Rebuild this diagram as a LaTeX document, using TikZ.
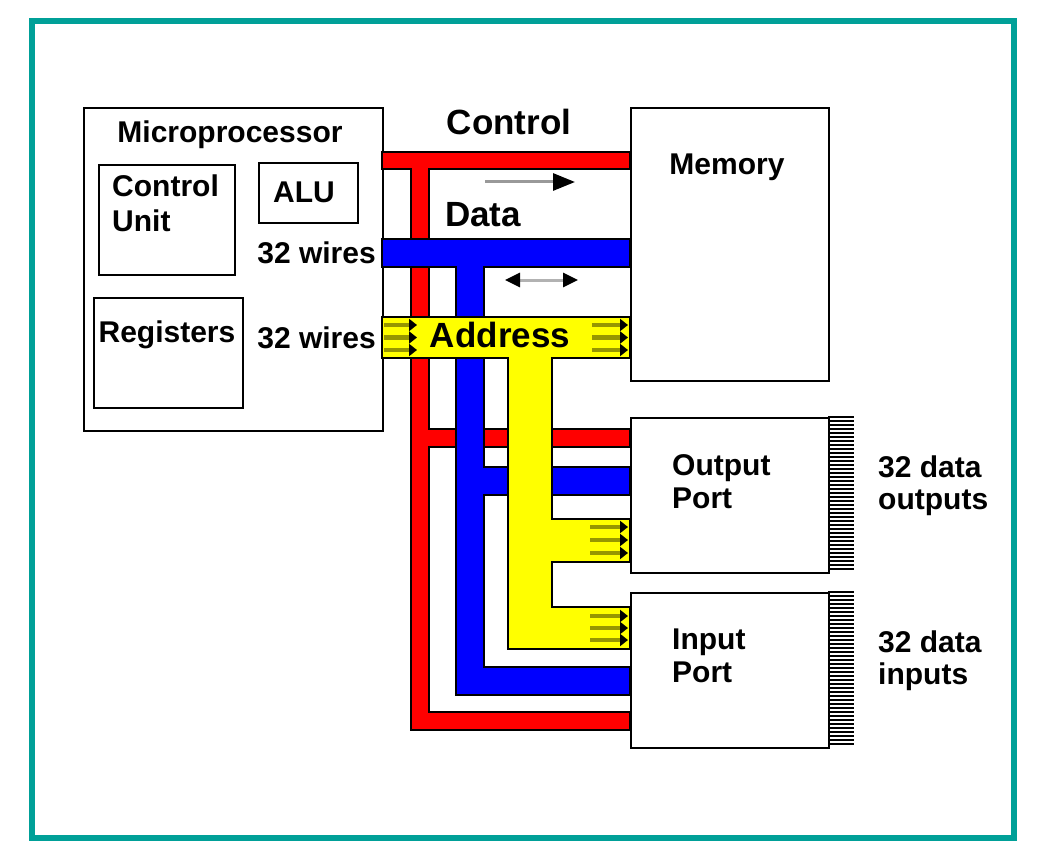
\documentclass[tikz,border=0pt]{standalone}
\usepackage{fontspec}
\setmainfont{Liberation Sans}
\usetikzlibrary{arrows.meta}
\definecolor{frameteal}{RGB}{0,160,152}
\definecolor{ctrlred}{RGB}{255,0,0}
\definecolor{datablue}{RGB}{0,0,255}
\definecolor{addryellow}{RGB}{255,255,0}
\definecolor{addrolive}{RGB}{150,150,0}
\tikzset{
    x=1pt, y=-1pt, % pixel-like units, y going down
    box/.style={draw, line width=2pt, fill=white, inner sep=0pt, anchor=north west}, % the unit boxes
    lbl/.style={font=\bfseries\fontsize{30}{33}\selectfont, inner sep=0pt}, % ordinary text
    buslbl/.style={font=\bfseries\fontsize{35}{40}\selectfont, inner sep=0pt}, % bus names
    bus/.style={draw=black, line width=2pt}, % outline of a bus bar
    addrarrow/.style={addrolive, line width=4.5pt, -{Triangle[color=black, length=8pt, width=12pt]}}, % marks on the address bus
    hatch/.style={line width=1.8pt}, % pins on the ports
}

\begin{document}
\begin{tikzpicture}
        \useasboundingbox (0,0) rectangle (1059,850);
        \draw[frameteal, line width=5.5pt] (32,21) rectangle (1014,838);

        % boxes here
        \node[box, minimum width=299pt, minimum height=323pt] (MP) at (83,107) {};
        \node[box, minimum width=136pt, minimum height=110pt] (CU) at (98,164) {};
        \node[box, minimum width=99pt, minimum height=60pt] (ALU) at (258,162) {};
        \node[box, minimum width=149pt, minimum height=110pt] (REG) at (93,297) {};
        \node[box, minimum width=198pt, minimum height=273pt] (MEM) at (630,107) {};
        \node[box, minimum width=198pt, minimum height=155pt] (OUT) at (630,417) {};
        \node[box, minimum width=198pt, minimum height=155pt] (IN) at (630,592) {};

        % box texts
        \node[lbl, anchor=base] (mp_txt) at (230,143) {Microprocessor};
        \node[lbl, anchor=north west, align=left] (cu_txt) at (112,175) {Control\\[2pt]Unit};
        \node[lbl, anchor=base] (alu_txt) at (304,203) {ALU};
        \node[lbl, anchor=base] (reg_txt) at (167,342) {Registers};
        \node[lbl, anchor=base east] (wires1) at (376,263) {32 wires};
        \node[lbl, anchor=base east] (wires2) at (376,348) {32 wires};
        \node[lbl, anchor=base] (mem_txt) at (727,175) {Memory};
        \node[lbl, anchor=north west, align=left] (out_txt) at (672,454) {Output\\Port};
        \node[lbl, anchor=north west, align=left] (in_txt) at (672,629) {Input\\Port};
        \node[lbl, anchor=north west, align=left] (outs) at (878,456) {32 data\\[-1pt]outputs};
        \node[lbl, anchor=north west, align=left] (ins) at (878,631) {32 data\\[-1pt]inputs};

        % buses: control, data, address
        \draw[bus, fill=ctrlred] (382,152) -- (630,152) -- (630,169) -- (429,169) -- (429,429) -- (630,429)
              -- (630,447) -- (429,447) -- (429,712) -- (630,712) -- (630,730) -- (411,730) -- (411,169)
              -- (382,169) -- cycle;
        \draw[bus, fill=datablue] (382,239) -- (630,239) -- (630,267) -- (484,267) -- (484,467) -- (630,467)
              -- (630,495) -- (484,495) -- (484,667) -- (630,667) -- (630,695) -- (456,695) -- (456,267)
              -- (382,267) -- cycle;
        \draw[bus, fill=addryellow] (382,317) -- (630,317) -- (630,358) -- (552,358) -- (552,519) -- (630,519)
              -- (630,562) -- (552,562) -- (552,607) -- (630,607) -- (630,649) -- (508,649) -- (508,358)
              -- (382,358) -- cycle;

        % bus names and directions
        \node[buslbl, anchor=base] (ctrl_txt) at (509,135) {Control};
        \node[buslbl, anchor=base] (data_txt) at (483,227) {Data};
        \node[buslbl, anchor=base] (addr_txt) at (500,347) {Address};
        \draw[gray!80, line width=3pt, -{Triangle[color=black, length=22pt, width=17pt]}] (485,182) -- (575,182);
        \draw[gray!60, line width=3pt, {Triangle[color=black, length=15pt, width=14pt]}-{Triangle[color=black, length=15pt, width=14pt]}] (505,280) -- (578,280);

        % marks on the address bus
        \foreach \y in {325,337.5,350} {
            \draw[addrarrow] (384,\y) -- (417,\y);
            \draw[addrarrow] (592,\y) -- (628,\y);
        }
        \foreach \y in {527,540,553} \draw[addrarrow] (590,\y) -- (628,\y);
        \foreach \y in {616,628,640} \draw[addrarrow] (590,\y) -- (628,\y);

        % pins of the ports
        \foreach \i in {0,...,38} {
            \draw[hatch] (828,417+4*\i) -- (854,417+4*\i);
            \draw[hatch] (828,592+4*\i) -- (854,592+4*\i);
        }
    \end{tikzpicture}
\end{document}
